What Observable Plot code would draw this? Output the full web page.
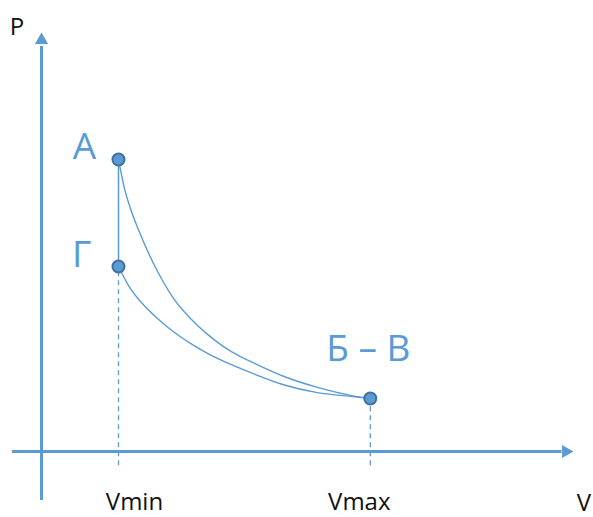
<!DOCTYPE html>
<html>
<head>
<meta charset="utf-8">
<script src="https://cdn.jsdelivr.net/npm/d3@7"></script>
<script src="https://cdn.jsdelivr.net/npm/@observablehq/plot@0.6"></script>
<style>
  html, body { margin: 0; padding: 0; background: #fff; }
  svg { display: block; }
</style>
</head>
<body>
<div id="chart"></div>
<script>
// ---- Data (V in units of Vmin, P in units of P at Б–В) ----
const pointLabels = ["А", "Г", "Б – В"];
const pointV = [1, 1, 4.27];
const pointP = [5.51, 3.49, 1.0];

// upper curve А → Б–В
const upperV = [1, 1.078, 1.156, 1.286, 1.506, 1.714, 1.935, 2.156, 2.364, 2.584, 2.714, 3.143, 3.584, 4.013, 4.27];
const upperP = [5.51, 4.96, 4.58, 4.09, 3.40, 2.89, 2.51, 2.21, 1.98, 1.79, 1.70, 1.42, 1.21, 1.06, 1.0];
// lower curve Г → Б–В
const lowerV = [1, 1.13, 1.286, 1.506, 1.714, 1.935, 2.156, 2.714, 3.143, 3.584, 4.013, 4.27];
const lowerP = [3.49, 3.13, 2.83, 2.51, 2.26, 2.04, 1.85, 1.49, 1.26, 1.11, 1.04, 1.0];

const tickLabels = ["Vmin", "Vmax"];
const tickV = [1, 4.27];
const axisNames = ["P", "V"];

// ---- Build tables ----
const upper = upperV.map((v, i) => ({V: v, P: upperP[i]}));
const lower = lowerV.map((v, i) => ({V: v, P: lowerP[i]}));
const points = pointLabels.map((l, i) => ({label: l, V: pointV[i], P: pointP[i]}));

const blue = "#5B9BD5";
const dark = "#41719C";
const font = "'Open Sans', Lato, sans-serif";

const chart = Plot.plot({
  width: 593,
  height: 517,
  margin: 0,
  style: {background: "#fff", fontFamily: font},
  x: {domain: [-41 / 77, 552 / 77], range: [0, 593], axis: null},
  y: {domain: [-66 / 53, 451 / 53], range: [517, 0], axis: null},
  marks: [
    // axes
    Plot.ruleY([0], {x1: -0.377, x2: 6.76, stroke: blue, strokeWidth: 3}),
    Plot.ruleX([0], {y1: -0.925, y2: 7.64, stroke: blue, strokeWidth: 3}),
    Plot.dot([{V: 6.81, P: 0}], {x: "V", y: "P", symbol: "triangle2", r: 6.3, fill: blue, stroke: "none", rotate: 90}),
    Plot.dot([{V: 0, P: 7.76}], {x: "V", y: "P", symbol: "triangle2", r: 6.3, fill: blue, stroke: "none"}),
    // dashed drop lines
    Plot.ruleX([points[1], points[2]], {x: "V", y1: -0.27, y2: "P", stroke: blue, strokeWidth: 1.3, strokeDasharray: "5,4"}),
    // vertical А–Г
    Plot.ruleX([points[0]], {x: "V", y1: points[1].P, y2: "P", stroke: blue, strokeWidth: 1.5}),
    // curves
    Plot.line(upper, {x: "V", y: "P", curve: "monotone-x", stroke: blue, strokeWidth: 1.4}),
    Plot.line(lower, {x: "V", y: "P", curve: "monotone-x", stroke: blue, strokeWidth: 1.4}),
    // points
    Plot.dot(points, {x: "V", y: "P", r: 6, fill: blue, stroke: dark, strokeWidth: 2}),
    // point labels
    Plot.text([points[0]], {x: "V", y: "P", text: "label", dx: -34, dy: -12, fontSize: 37, fill: blue}),
    Plot.text([points[1]], {x: "V", y: "P", text: "label", dx: -37, dy: -11, fontSize: 37, fill: blue}),
    Plot.text([points[2]], {x: "V", y: "P", text: "label", dx: -2, dy: -49, fontSize: 37, fill: blue}),
    // tick labels
    Plot.text([{t: tickLabels[0], V: tickV[0]}], {x: "V", y: () => -0.96, text: "t", dx: 16, fontSize: 24, fill: "#111"}),
    Plot.text([{t: tickLabels[1], V: tickV[1]}], {x: "V", y: () => -0.96, text: "t", dx: -11, fontSize: 24, fill: "#111"}),
    // axis names
    Plot.text([{t: axisNames[0]}], {x: () => -0.318, y: () => 8.01, text: "t", fontSize: 24, fill: "#111"}),
    Plot.text([{t: axisNames[1]}], {x: () => 7.045, y: () => -0.98, text: "t", fontSize: 24, fill: "#111"})
  ]
});
document.getElementById("chart").appendChild(chart);
</script>
</body>
</html>
